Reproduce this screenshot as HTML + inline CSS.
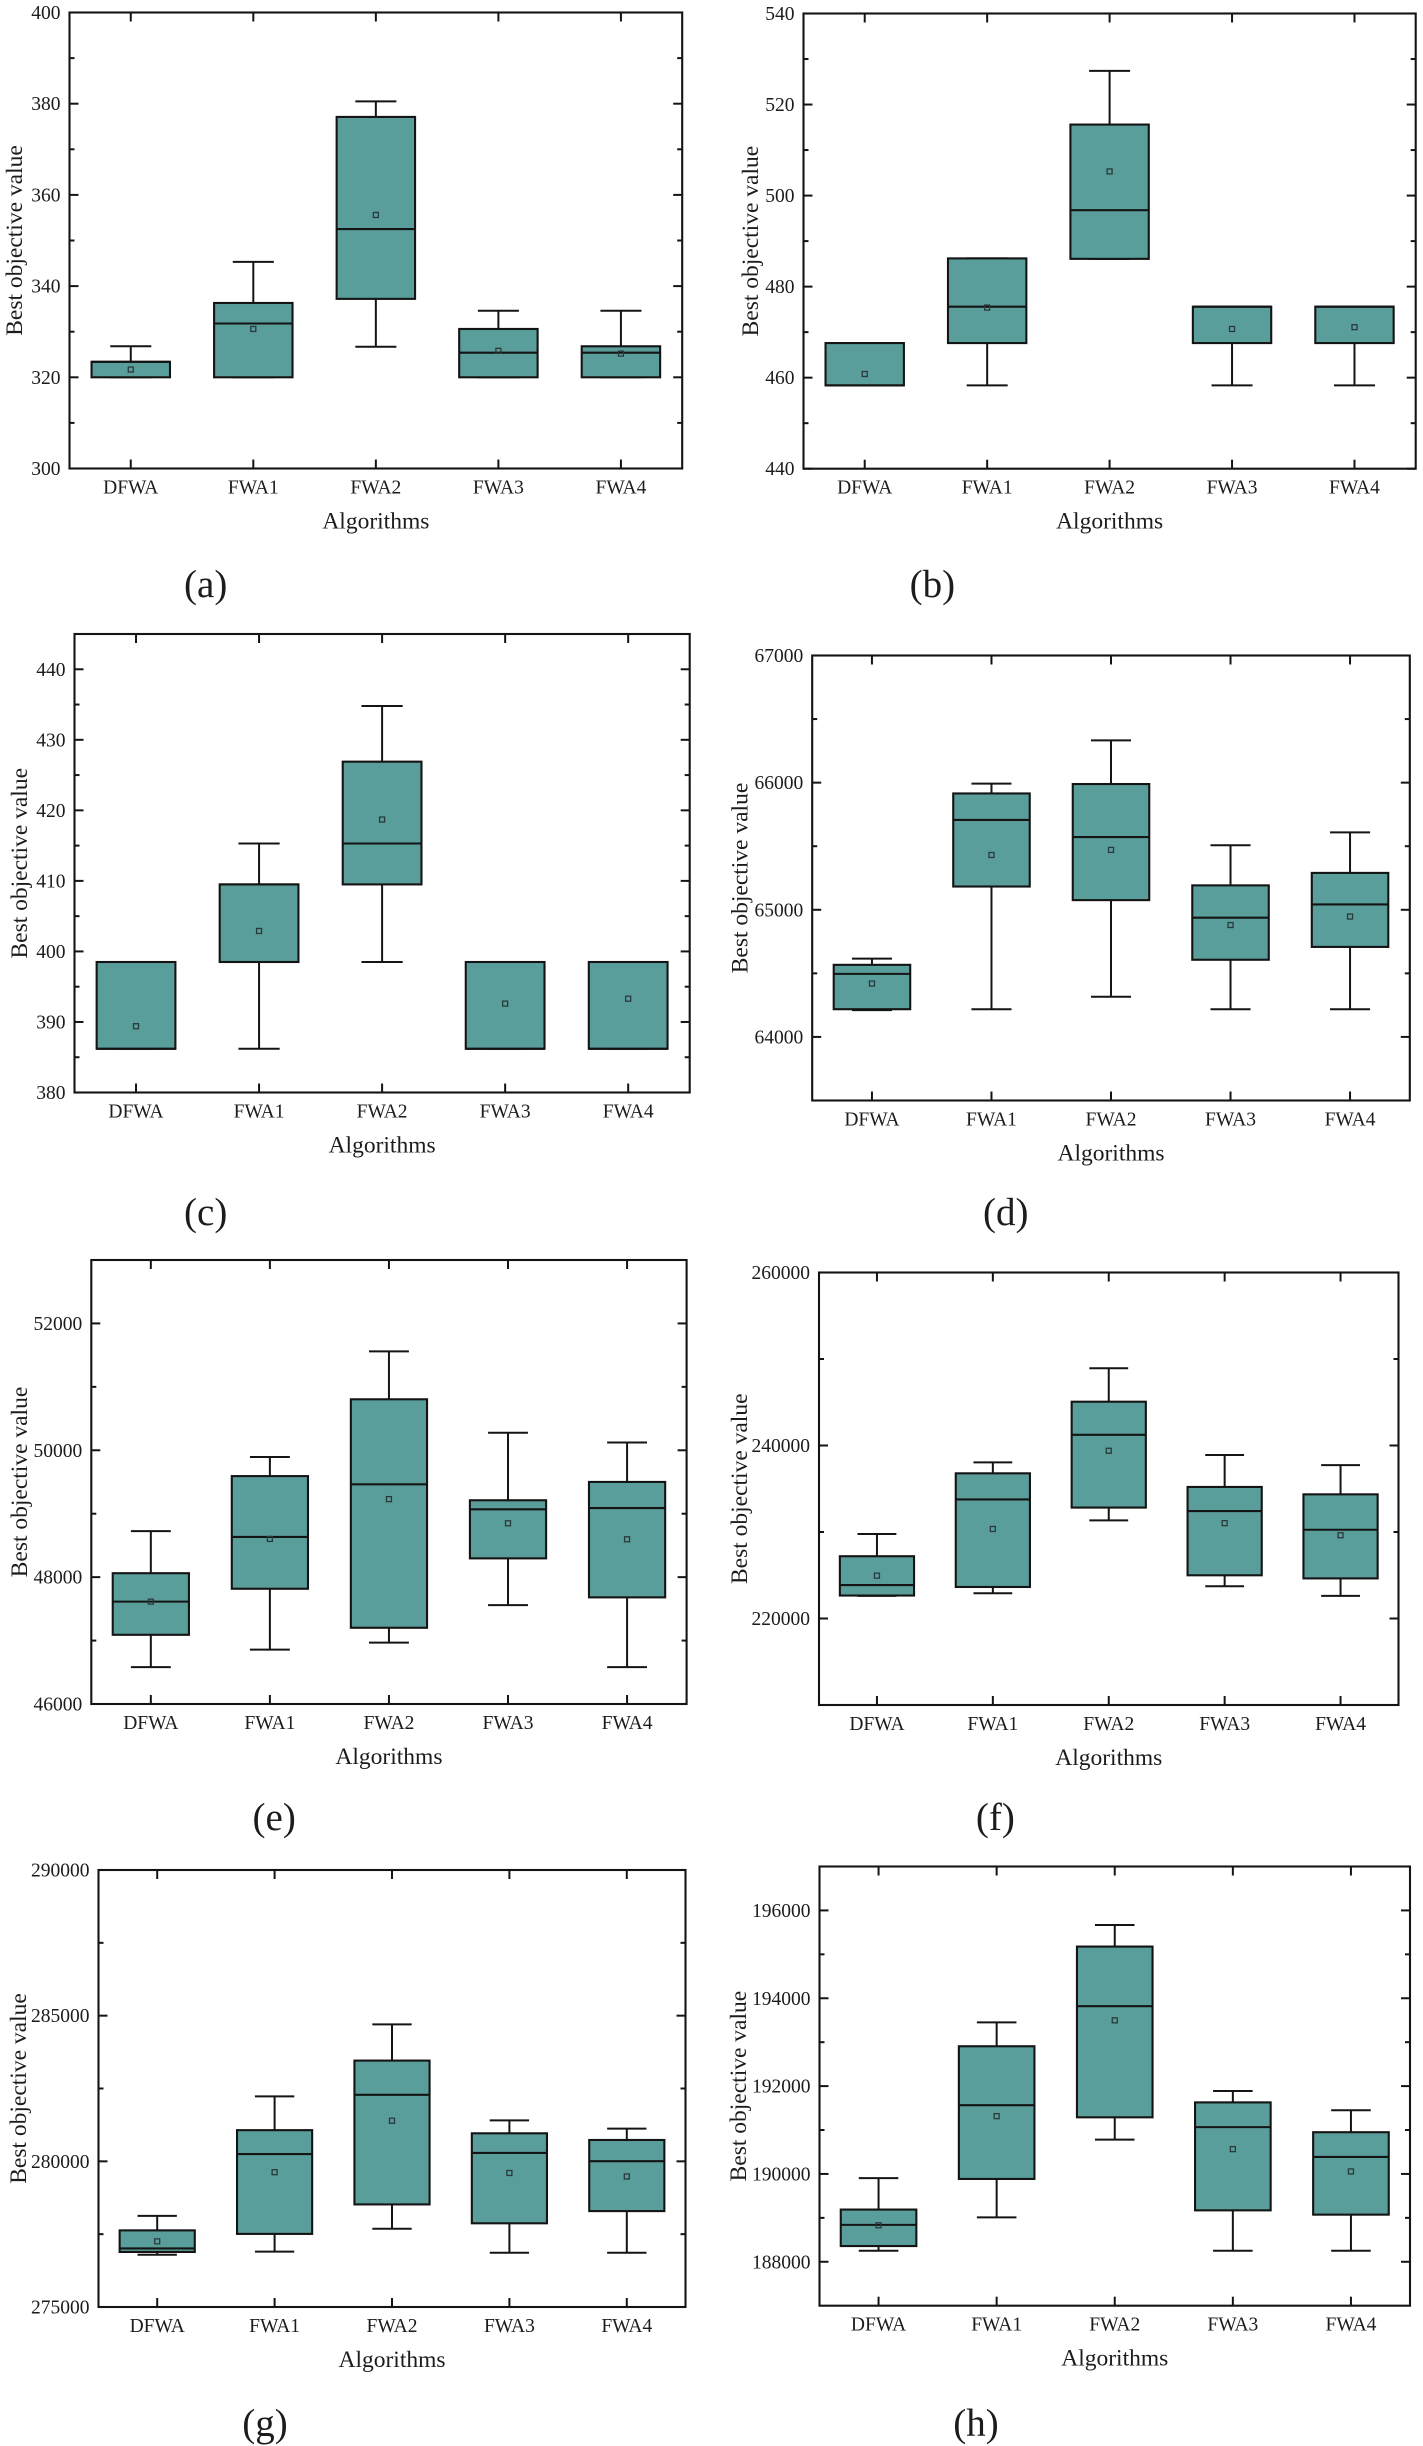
<!DOCTYPE html>
<html lang="en">
<head>
<meta charset="utf-8">
<title>Best objective value by algorithm</title>
<style>
html,body{margin:0;padding:0;background:#fff;width:1423px;height:2446px;overflow:hidden}
svg{display:block;filter:blur(.35px)}
text{font-family:"Liberation Serif",serif;fill:#1c1c1c}
</style>
</head>
<body>
<svg id="figure" xmlns="http://www.w3.org/2000/svg" width="1423" height="2446" viewBox="0 0 1423 2446"></svg>
<script>
const categories = ['DFWA', 'FWA1', 'FWA2', 'FWA3', 'FWA4'];
const yAxisTitle = 'Best objective value';
const xAxisTitle = 'Algorithms';

const aTicks = [300, 320, 340, 360, 380, 400];
const aHigh = [326.8, 345.3, 380.5, 334.6, 334.6];
const aQ3 = [323.4, 336.3, 377.1, 330.6, 326.8];
const aMedian = [323.4, 331.8, 352.5, 325.4, 325.4];
const aQ1 = [320, 320, 337.2, 320, 320];
const aLow = [320, 320, 326.7, 320, 320];
const aMean = [321.7, 330.6, 355.6, 325.8, 325.2];

const bTicks = [440, 460, 480, 500, 520, 540];
const bHigh = [467.6, 486.2, 527.4, 475.6, 475.6];
const bQ3 = [467.6, 486.2, 515.6, 475.6, 475.6];
const bMedian = [458.3, 475.6, 496.8, 475.6, 475.6];
const bQ1 = [458.3, 467.6, 486.1, 467.6, 467.6];
const bLow = [458.3, 458.3, 486.1, 458.3, 458.3];
const bMean = [460.8, 475.4, 505.3, 470.7, 471.1];

const cTicks = [380, 390, 400, 410, 420, 430, 440];
const cHigh = [398.5, 415.3, 434.8, 398.5, 398.5];
const cQ3 = [398.5, 409.5, 426.9, 398.5, 398.5];
const cMedian = [386.2, 409.5, 415.3, 386.2, 386.2];
const cQ1 = [386.2, 398.5, 409.5, 386.2, 386.2];
const cLow = [386.2, 386.2, 398.5, 386.2, 386.2];
const cMean = [389.4, 402.9, 418.7, 392.6, 393.3];

const dTicks = [64000, 65000, 66000, 67000];
const dHigh = [64616, 65992, 66332, 65508, 65609];
const dQ3 = [64567, 65915, 65989, 65192, 65290];
const dMedian = [64496, 65707, 65572, 64938, 65042];
const dQ1 = [64218, 65183, 65076, 64607, 64708];
const dLow = [64211, 64218, 64316, 64218, 64218];
const dMean = [64420, 65431, 65471, 64880, 64947];

const eTicks = [46000, 48000, 50000, 52000];
const eHigh = [48726, 49894, 51560, 50276, 50122];
const eQ3 = [48062, 49593, 50804, 49212, 49501];
const eMedian = [47614, 48634, 49464, 49070, 49089];
const eQ1 = [47091, 47817, 47202, 48296, 47681];
const eLow = [46581, 46858, 46968, 47558, 46581];
const eMean = [47614, 48603, 49230, 48849, 48597];

const fTicks = [220000, 240000, 260000];
const fHigh = [229764, 238043, 248931, 238898, 237728];
const fQ3 = [227199, 236783, 245062, 235208, 234353];
const fMedian = [223870, 233768, 241237, 232418, 230259];
const fQ1 = [222655, 223645, 232823, 224994, 224634];
const fLow = [222610, 222925, 231339, 223735, 222610];
const fMean = [224950, 230349, 239393, 231024, 229628];

const gTicks = [275000, 280000, 285000, 290000];
const gHigh = [278130, 282230, 284699, 281408, 281124];
const gQ3 = [277630, 281070, 283458, 280962, 280733];
const gMedian = [277010, 280248, 282284, 280288, 280005];
const gQ1 = [276889, 277509, 278521, 277873, 278292];
const gLow = [276794, 276902, 277684, 276862, 276862];
const gMean = [277253, 279627, 281394, 279600, 279479];

const hTicks = [188000, 190000, 192000, 194000, 196000];
const hHigh = [189904, 193452, 195669, 191888, 191450];
const hQ3 = [189189, 192907, 195177, 191629, 190950];
const hMedian = [188840, 191566, 193819, 191066, 190386];
const hQ1 = [188358, 189886, 191289, 189171, 189073];
const hLow = [188250, 189010, 190780, 188250, 188250];
const hMean = [188831, 191316, 193497, 190565, 190056];

const panels = [
  {id:'a', yMin:300, yMax:400, ticks:aTicks, high:aHigh, q3:aQ3, median:aMedian, q1:aQ1, low:aLow, mean:aMean, left:69.5, right:682.2, top:12.5, bottom:468.5, titleX:21.8, capX:205.7, capY:597},
  {id:'b', yMin:440, yMax:540, ticks:bTicks, high:bHigh, q3:bQ3, median:bMedian, q1:bQ1, low:bLow, mean:bMean, left:803.5, right:1415.7, top:13.5, bottom:468.7, titleX:758.2, capX:932.4, capY:597},
  {id:'c', yMin:380, yMax:445, ticks:cTicks, high:cHigh, q3:cQ3, median:cMedian, q1:cQ1, low:cLow, mean:cMean, left:74.5, right:689.7, top:634, bottom:1092.5, titleX:27.2, capX:205.7, capY:1225},
  {id:'d', yMin:63500, yMax:67000, ticks:dTicks, high:dHigh, q3:dQ3, median:dMedian, q1:dQ1, low:dLow, mean:dMean, left:812.2, right:1409.8, top:655.5, bottom:1100.5, titleX:747.4, capX:1005.8, capY:1225},
  {id:'e', yMin:46000, yMax:53000, ticks:eTicks, high:eHigh, q3:eQ3, median:eMedian, q1:eQ1, low:eLow, mean:eMean, left:91.3, right:686.6, top:1260, bottom:1704, titleX:27.2, capX:274.2, capY:1830},
  {id:'f', yMin:210000, yMax:260000, ticks:fTicks, high:fHigh, q3:fQ3, median:fMedian, q1:fQ1, low:fLow, mean:fMean, left:819, right:1398.5, top:1272.5, bottom:1705, titleX:747, capX:995.4, capY:1830},
  {id:'g', yMin:275000, yMax:290000, ticks:gTicks, high:gHigh, q3:gQ3, median:gMedian, q1:gQ1, low:gLow, mean:gMean, left:98.5, right:685.5, top:1870, bottom:2307, titleX:25.9, capX:265, capY:2436},
  {id:'h', yMin:187000, yMax:197000, ticks:hTicks, high:hHigh, q3:hQ3, median:hMedian, q1:hQ1, low:hLow, mean:hMean, left:819.5, right:1410, top:1866.5, bottom:2305.7, titleX:746, capX:976, capY:2436}
];

const NS = 'http://www.w3.org/2000/svg';
const INK = '#141414';
const FILL = '#5a9e9b';
const svg = document.getElementById('figure');

function makeLine(parent, x1, y1, x2, y2, w) {
  const el = document.createElementNS(NS, 'line');
  el.setAttribute('x1', x1);
  el.setAttribute('y1', y1);
  el.setAttribute('x2', x2);
  el.setAttribute('y2', y2);
  el.setAttribute('stroke', INK);
  el.setAttribute('stroke-width', w);
  parent.appendChild(el);
  return el;
}

function makeText(parent, x, y, size, anchor, str) {
  const el = document.createElementNS(NS, 'text');
  el.setAttribute('x', x);
  el.setAttribute('y', y);
  el.setAttribute('font-size', size);
  el.setAttribute('text-anchor', anchor);
  el.textContent = str;
  parent.appendChild(el);
  return el;
}

function makeRect(parent, x, y, w, h, fill, stroke, sw) {
  const el = document.createElementNS(NS, 'rect');
  el.setAttribute('x', x);
  el.setAttribute('y', y);
  el.setAttribute('width', w);
  el.setAttribute('height', h);
  el.setAttribute('fill', fill);
  el.setAttribute('stroke', stroke);
  el.setAttribute('stroke-width', sw);
  parent.appendChild(el);
  return el;
}

panels.forEach(function (p) {
  const W = p.right - p.left;
  const yScale = function (v) { return p.bottom - (v - p.yMin) / (p.yMax - p.yMin) * (p.bottom - p.top); };
  const xScale = function (i) { return p.left + (i + 0.5) * W / categories.length; };
  const cell = W / categories.length;
  const boxW = cell * 0.64;
  const capW = cell * 0.335;

  const g = document.createElementNS(NS, 'g');
  
  
  svg.appendChild(g);

  // category ticks and labels
  categories.forEach(function (c, i) {
    const x = xScale(i);
    const tb = makeLine(g, x, p.bottom, x, p.bottom - 9, 2);
    
    
    const tt = makeLine(g, x, p.top, x, p.top + 9, 2);
    
    
    const lab = makeText(g, x, p.bottom + 25, 19.5, 'middle', c);
    
    
  });

  // value ticks and labels
  p.ticks.forEach(function (t, i) {
    const y = yScale(t);
    const l1 = makeLine(g, p.left, y, p.left + 9, y, 2);
    
    
    const l2 = makeLine(g, p.right, y, p.right - 9, y, 2);
    
    
    const lab = makeText(g, p.left - 9, y + 6.5, 19.5, 'end', String(t));
    
    
    if (i < p.ticks.length - 1) {
      const my = yScale((t + p.ticks[i + 1]) / 2);
      const m1 = makeLine(g, p.left, my, p.left + 5, my, 2);
      
      
      const m2 = makeLine(g, p.right, my, p.right - 5, my, 2);
      
      
    }
  });

  // remaining minor ticks beyond the last or before the first labelled tick
  const step = p.ticks[1] - p.ticks[0];
  [p.ticks[0] - step / 2, p.ticks[p.ticks.length - 1] + step / 2].forEach(function (v) {
    if (v > p.yMin && v < p.yMax) {
      const my = yScale(v);
      const m1 = makeLine(g, p.left, my, p.left + 5, my, 2);
      
      
      const m2 = makeLine(g, p.right, my, p.right - 5, my, 2);
      
      
    }
  });

  // boxes
  categories.forEach(function (c, i) {
    const x = xScale(i);
    const box = document.createElementNS(NS, 'g');
    
    
    g.appendChild(box);

    const stem = makeLine(box, x, yScale(p.high[i]), x, yScale(p.low[i]), 2);
    
    
    const capHi = makeLine(box, x - capW / 2, yScale(p.high[i]), x + capW / 2, yScale(p.high[i]), 2);
    
    
    const capLo = makeLine(box, x - capW / 2, yScale(p.low[i]), x + capW / 2, yScale(p.low[i]), 2);
    
    

    const r = makeRect(box, x - boxW / 2, yScale(p.q3[i]), boxW, yScale(p.q1[i]) - yScale(p.q3[i]), FILL, INK, 2.1);
    
    

    const med = makeLine(box, x - boxW / 2, yScale(p.median[i]), x + boxW / 2, yScale(p.median[i]), 2.1);
    
    

    const mk = makeRect(box, x - 2.5, yScale(p.mean[i]) - 2.5, 5, 5, 'none', '#2a3a3a', 1.3);
    
    
  });

  // plot frame
  const frame = makeRect(g, p.left, p.top, W, p.bottom - p.top, 'none', INK, 2.1);
  
  

  // axis titles
  const xt = makeText(g, (p.left + p.right) / 2, p.bottom + 60, 23.5, 'middle', xAxisTitle);
  
  
  const cy = (p.top + p.bottom) / 2;
  const yt = makeText(g, p.titleX, cy, 23.5, 'middle', yAxisTitle);
  yt.setAttribute('transform', 'rotate(-90 ' + p.titleX + ' ' + cy + ')');
  
  

  // panel caption
  const cap = makeText(g, p.capX, p.capY, 39, 'middle', '(' + p.id + ')');
  
  
});
</script>
</body>
</html>
